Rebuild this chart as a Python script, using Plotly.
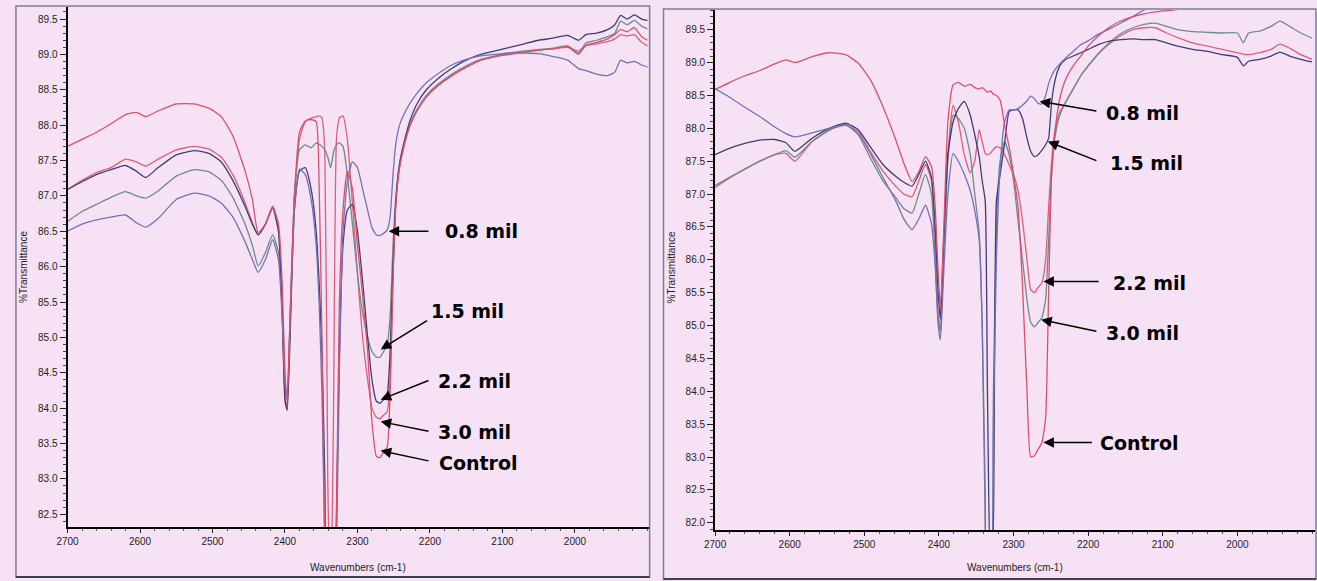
import plotly.graph_objects as go

W, H = 1317, 581

# ---------------- data: left panel ----------------
wn_left = [2700, 2680, 2660, 2640, 2620, 2605, 2592, 2575, 2550, 2525,
           2505, 2488, 2472, 2455, 2445, 2437, 2427, 2417, 2409, 2404,
           2400, 2397, 2393, 2387, 2380, 2372, 2364, 2357, 2353, 2349,
           2345, 2341, 2337, 2333, 2329, 2325, 2320, 2314, 2307, 2300,
           2293, 2286, 2280, 2274, 2269, 2264, 2259, 2255, 2251, 2247,
           2242, 2236, 2228, 2218, 2205, 2190, 2170, 2150, 2130, 2110,
           2090, 2070, 2050, 2030, 2010, 1995, 1985, 1970, 1955, 1945,
           1937, 1928, 1918, 1908, 1900]

left_control = [87.70, 87.80, 87.90, 88.02, 88.15, 88.18, 88.12, 88.20, 88.30, 88.30,
                88.24, 88.12, 87.85, 87.35, 86.95, 86.48, 86.60, 86.85, 86.60, 85.80,
                84.50, 84.10, 85.30, 87.00, 87.90, 88.06, 88.08, 88.05, 87.20, 85.00,
                82.00, 81.00, 81.00, 81.00, 82.50, 85.50, 86.80, 87.35, 87.10, 86.30,
                85.60, 84.80, 83.80, 83.32, 83.30, 83.38, 83.45, 84.20, 85.80, 86.90,
                87.40, 87.70, 87.98, 88.20, 88.40, 88.55, 88.70, 88.82, 88.92, 88.97,
                89.00, 89.03, 89.06, 89.08, 89.11, 89.00, 89.13, 89.17, 89.22, 89.28,
                89.35, 89.32, 89.38, 89.25, 89.20]
left_30 = [87.09, 87.22, 87.33, 87.40, 87.52, 87.48, 87.42, 87.52, 87.65, 87.70,
           87.66, 87.55, 87.30, 86.90, 86.62, 86.45, 86.60, 86.85, 86.50, 85.50,
           84.20, 84.00, 85.20, 87.00, 87.80, 88.05, 88.10, 88.12, 88.13, 88.10,
           87.60, 83.00, 81.00, 84.00, 87.80, 88.10, 88.13, 87.80, 86.90, 85.90,
           85.00, 84.40, 84.00, 83.87, 83.85, 83.90, 83.95, 84.40, 85.90, 86.90,
           87.40, 87.70, 87.98, 88.20, 88.40, 88.55, 88.70, 88.82, 88.92, 88.97,
           89.01, 89.04, 89.06, 89.08, 89.10, 89.05, 89.12, 89.15, 89.18, 89.22,
           89.28, 89.26, 89.28, 89.17, 89.12]
left_22 = [87.09, 87.20, 87.30, 87.37, 87.43, 87.35, 87.26, 87.40, 87.58, 87.64,
           87.60, 87.48, 87.22, 86.85, 86.60, 86.45, 86.60, 86.83, 86.50, 85.40,
           84.10, 83.97, 85.00, 86.80, 87.35, 87.40, 87.10, 86.50, 85.80, 84.80,
           83.00, 81.00, 81.00, 81.00, 82.50, 84.80, 86.30, 86.80, 86.88, 86.50,
           85.80, 85.00, 84.40, 84.10, 84.07, 84.12, 84.20, 84.80, 86.00, 86.95,
           87.45, 87.75, 88.05, 88.30, 88.50, 88.65, 88.80, 88.92, 89.00, 89.05,
           89.10, 89.15, 89.20, 89.23, 89.27, 89.20, 89.28, 89.30, 89.35, 89.42,
           89.55, 89.50, 89.56, 89.50, 89.48]
left_15 = [86.64, 86.78, 86.88, 86.98, 87.06, 87.00, 86.97, 87.07, 87.28, 87.37,
           87.34, 87.22, 86.98, 86.60, 86.30, 86.01, 86.20, 86.45, 86.20, 85.40,
           84.25, 84.15, 85.30, 87.00, 87.65, 87.72, 87.68, 87.75, 87.73, 87.70,
           87.65, 87.55, 87.40, 87.62, 87.72, 87.75, 87.70, 87.30, 86.60, 85.90,
           85.35, 85.00, 84.80, 84.72, 84.72, 84.80, 84.90, 85.30, 86.30, 87.00,
           87.45, 87.72, 88.00, 88.22, 88.42, 88.57, 88.72, 88.84, 88.93, 88.98,
           89.02, 89.05, 89.07, 89.09, 89.12, 89.02, 89.16, 89.20, 89.25, 89.30,
           89.47, 89.42, 89.48, 89.40, 89.36]
left_08 = [86.50, 86.60, 86.66, 86.70, 86.73, 86.62, 86.56, 86.68, 86.95, 87.04,
           87.00, 86.90, 86.70, 86.35, 86.10, 85.92, 86.10, 86.38, 86.10, 85.30,
           84.35, 84.20, 85.20, 86.80, 87.38, 87.30, 86.95, 86.30, 85.50, 84.20,
           82.00, 81.00, 81.00, 81.00, 82.00, 84.50, 86.50, 87.20, 87.48, 87.40,
           87.10, 86.80, 86.55, 86.45, 86.44, 86.47, 86.52, 86.70, 87.30, 87.75,
           88.00, 88.15, 88.30, 88.45, 88.60, 88.72, 88.85, 88.93, 88.98, 89.00,
           89.02, 89.02, 89.01, 88.97, 88.92, 88.80, 88.77, 88.72, 88.70, 88.75,
           88.92, 88.88, 88.90, 88.85, 88.82]

# ---------------- data: right panel ----------------
wn_right = [2700, 2680, 2660, 2640, 2620, 2605, 2593, 2570, 2547, 2525,
            2508, 2492, 2475, 2458, 2447, 2436, 2427, 2418, 2410, 2405,
            2401, 2398, 2394, 2388, 2381, 2374, 2366, 2358, 2352, 2346,
            2342, 2338, 2335, 2331, 2327, 2323, 2318, 2312, 2306, 2300,
            2294, 2288, 2282, 2277, 2272, 2267, 2262, 2257, 2253, 2249,
            2244, 2238, 2230, 2220, 2210, 2200, 2185, 2170, 2155, 2140,
            2125, 2110, 2095, 2080, 2060, 2040, 2020, 2000, 1992, 1985,
            1970, 1955, 1943, 1930, 1915, 1900]

right_control = [88.59, 88.70, 88.80, 88.88, 88.98, 89.04, 89.00, 89.09, 89.15, 89.12,
                 88.99, 88.74, 88.33, 87.83, 87.47, 87.19, 87.34, 87.57, 87.42, 86.80,
                 85.80, 85.25, 86.30, 88.10, 88.66, 88.70, 88.64, 88.67, 88.62, 88.60,
                 88.62, 88.58, 88.55, 88.57, 88.52, 88.50, 88.43, 88.05, 87.72, 87.30,
                 86.80, 85.60, 84.00, 83.00, 83.02, 83.12, 83.22, 83.60, 85.50, 87.30,
                 88.00, 88.45, 88.75, 88.95, 89.10, 89.25, 89.42, 89.55, 89.64, 89.70,
                 89.74, 89.77, 89.79, 89.81, 89.83, 89.86, 89.88, 89.90, 89.92, 89.93,
                 89.95, 89.96, 89.97, 89.98, 89.99, 90.00]
right_08 = [88.60, 88.47, 88.32, 88.18, 88.02, 87.92, 87.87, 87.93, 88.00, 88.05,
            87.92, 87.62, 87.25, 86.90, 86.62, 86.46, 86.62, 86.83, 86.55, 85.90,
            85.00, 84.78, 85.70, 87.00, 87.62, 87.50, 87.30, 87.05, 86.75, 86.30,
            85.00, 82.50, 81.00, 81.00, 83.50, 86.00, 87.40, 88.10, 88.28, 88.28,
            88.30, 88.35, 88.42, 88.49, 88.45, 88.38, 88.37, 88.50, 88.68, 88.80,
            88.90, 88.98, 89.07, 89.17, 89.27, 89.33, 89.44, 89.52, 89.61, 89.70,
            89.80, 89.86, 89.90, 89.92, 89.94, 89.95, 89.96, 89.97, 89.98, 89.98,
            89.99, 90.00, 90.00, 90.00, 90.00, 90.00]
right_15 = [87.60, 87.70, 87.77, 87.82, 87.83, 87.78, 87.65, 87.85, 88.00, 88.08,
            87.98, 87.72, 87.45, 87.27, 87.18, 87.12, 87.30, 87.50, 87.25, 86.50,
            85.50, 85.10, 86.20, 87.60, 88.10, 88.30, 88.41, 88.20, 87.90, 87.57,
            87.20, 86.90, 84.00, 81.00, 82.00, 86.90, 87.30, 87.77, 88.25, 88.28,
            88.28, 88.15, 87.85, 87.65, 87.57, 87.60, 87.67, 87.75, 87.85, 88.40,
            88.75, 88.95, 89.05, 89.10, 89.15, 89.20, 89.28, 89.33, 89.35, 89.36,
            89.35, 89.35, 89.30, 89.25, 89.20, 89.17, 89.12, 89.08, 88.95, 89.02,
            89.05, 89.10, 89.16, 89.10, 89.05, 89.01]
right_22 = [87.10, 87.25, 87.38, 87.50, 87.60, 87.62, 87.50, 87.80, 87.98, 88.05,
            87.95, 87.65, 87.35, 87.12, 87.00, 86.96, 87.20, 87.45, 87.20, 86.30,
            85.20, 84.90, 86.00, 87.60, 88.35, 88.10, 87.60, 87.32, 87.50, 87.98,
            87.80, 87.62, 87.60, 87.62, 87.68, 87.72, 87.70, 87.60, 87.45, 87.30,
            87.05, 86.60, 86.00, 85.55, 85.50, 85.58, 85.65, 86.00, 86.80, 87.50,
            88.00, 88.25, 88.40, 88.60, 88.80, 88.95, 89.15, 89.30, 89.42, 89.50,
            89.53, 89.53, 89.45, 89.38, 89.30, 89.25, 89.20, 89.15, 89.13, 89.12,
            89.15, 89.20, 89.28, 89.22, 89.12, 89.05]
right_30 = [87.13, 87.26, 87.38, 87.50, 87.60, 87.66, 87.56, 87.80, 87.97, 88.06,
            87.90, 87.55, 87.20, 86.95, 86.78, 86.71, 87.00, 87.30, 87.00, 86.00,
            85.10, 84.95, 86.00, 87.50, 88.20, 88.15, 88.00, 87.60, 87.00, 86.40,
            85.00, 82.00, 81.00, 81.00, 84.00, 86.50, 87.50, 87.80, 87.60, 87.20,
            86.60, 86.00, 85.40, 85.05, 84.98, 85.05, 85.12, 85.40, 86.30, 87.30,
            87.90, 88.20, 88.40, 88.60, 88.80, 88.95, 89.15, 89.32, 89.45, 89.53,
            89.58, 89.60, 89.55, 89.50, 89.47, 89.46, 89.45, 89.45, 89.30, 89.45,
            89.48, 89.55, 89.63, 89.55, 89.45, 89.37]

x_tick_vals = [2700, 2600, 2500, 2400, 2300, 2200, 2100, 2000]
x_tick_text = ["2700", "2600", "2500", "2400", "2300", "2200", "2100", "2000"]
y_tick_vals = [82.0, 82.5, 83.0, 83.5, 84.0, 84.5, 85.0, 85.5, 86.0, 86.5,
               87.0, 87.5, 88.0, 88.5, 89.0, 89.5]

# labels: (text, text_x, text_y, arrow_head_x, arrow_head_y, arrow_tail_x, arrow_tail_y)
left_labels = [
    ("0.8 mil", 2182, 86.50, 2257, 86.50, 2200, 86.50),
    ("1.5 mil", 2202, 85.37, 2268, 84.83, 2202, 85.25),
    ("2.2 mil", 2192, 84.39, 2268, 84.12, 2200, 84.40),
    ("3.0 mil", 2192, 83.66, 2268, 83.81, 2200, 83.67),
    ("Control", 2190, 83.23, 2268, 83.40, 2200, 83.25),
]
right_labels = [
    ("0.8 mil", 2179, 88.24, 2265, 88.41, 2187, 88.26),
    ("1.5 mil", 2174, 87.47, 2254, 87.80, 2187, 87.50),
    ("2.2 mil", 2170, 85.65, 2260, 85.67, 2184, 85.67),
    ("3.0 mil", 2179, 84.89, 2263, 85.09, 2187, 84.91),
    ("Control", 2187, 83.22, 2260, 83.22, 2193, 83.22),
]

RED = "#d9506e"
RED2 = "#d8607e"
BLUE = "#7272b6"
NAVY = "#3e3e74"
GREEN = "#6c8c88"

fig = go.Figure()

left_series = [("3.0 mil", left_30, RED2), ("1.5 mil", left_15, GREEN),
               ("2.2 mil", left_22, NAVY), ("0.8 mil", left_08, BLUE),
               ("Control", left_control, RED)]
for name, ys, col in left_series:
    fig.add_trace(go.Scatter(x=wn_left, y=ys, mode="lines", name=name,
                             line=dict(color=col, width=1.3, shape="spline", smoothing=0.5),
                             xaxis="x", yaxis="y", showlegend=False))

right_series = [("2.2 mil", right_22, RED2), ("3.0 mil", right_30, GREEN),
                ("1.5 mil", right_15, NAVY), ("0.8 mil", right_08, BLUE),
                ("Control", right_control, RED)]
for name, ys, col in right_series:
    fig.add_trace(go.Scatter(x=wn_right, y=ys, mode="lines", name=name,
                             line=dict(color=col, width=1.3, shape="spline", smoothing=0.5),
                             xaxis="x2", yaxis="y2", showlegend=False))

tickfont = dict(family="Liberation Sans, Arial", size=10, color="#222")


def xcfg(domain, rng, anchor):
    return dict(domain=domain, range=rng, anchor=anchor,
                tickvals=x_tick_vals, ticktext=x_tick_text,
                showline=True, linecolor="black", linewidth=2, mirror=False,
                ticks="outside", ticklen=4, tickcolor="#222", tickwidth=1,
                tickfont=tickfont, showgrid=False, zeroline=False,
                minor=dict(dtick=20, ticklen=2, ticks="outside", tickcolor="#555", showgrid=False))


def ycfg(domain, rng, anchor):
    return dict(domain=domain, range=rng, anchor=anchor,
                tickvals=y_tick_vals, tickformat=".1f",
                showline=True, linecolor="black", linewidth=2, mirror=False,
                ticks="outside", ticklen=6, tickcolor="#222", tickwidth=1,
                tickfont=tickfont, showgrid=False, zeroline=False,
                minor=dict(dtick=0.1, ticklen=3, ticks="outside", tickcolor="#444", showgrid=False))


fig.update_layout(
    width=W, height=H,
    margin=dict(l=0, r=0, t=0, b=0),
    paper_bgcolor="#f6e2f4", plot_bgcolor="#f6e2f4",
    xaxis=xcfg([57 / W, 644 / W], [2700, 1897], "y"),
    yaxis=ycfg([(H - 527) / H, (H - 7) / H], [82.32, 89.67], "x"),
    xaxis2=xcfg([710 / W, 1315 / W], [2700, 1896], "y2"),
    yaxis2=ycfg([(H - 530) / H, (H - 10) / H], [81.89, 89.80], "x2"),
)

shapes = [
    dict(type="rect", xref="paper", yref="paper", x0=5 / W, x1=644 / W,
         y0=(H - 577) / H, y1=(H - 6) / H, line=dict(color="#7c7c9c", width=1.5)),
    dict(type="line", xref="paper", yref="paper", x0=5 / W, x1=644 / W,
         y0=(H - 577) / H, y1=(H - 577) / H, line=dict(color="#404050", width=2)),
    dict(type="rect", xref="paper", yref="paper", x0=658 / W, x1=1316 / W,
         y0=(H - 579) / H, y1=(H - 9) / H, line=dict(color="#7c7c9c", width=1.5)),
    dict(type="line", xref="paper", yref="paper", x0=658 / W, x1=1316 / W,
         y0=(H - 579) / H, y1=(H - 579) / H, line=dict(color="#404050", width=2)),
]
fig.update_layout(shapes=shapes)

ann = []
titlefont = dict(family="Liberation Sans, Arial", size=10, color="#222")
for xp in (12, 666):
    ann.append(dict(x=xp / W, y=(H - 267) / H, xref="paper", yref="paper",
                    text="%Transmittance", textangle=-90, showarrow=False,
                    font=titlefont, xanchor="center", yanchor="middle"))
for xp in (350, 1012):
    ann.append(dict(x=xp / W, y=(H - 567) / H, xref="paper", yref="paper",
                    text="Wavenumbers (cm-1)", showarrow=False,
                    font=titlefont, xanchor="center", yanchor="middle"))

labfont = dict(family="DejaVu Sans", size=19, color="black")
for labels, xr, yr in ((left_labels, "x", "y"), (right_labels, "x2", "y2")):
    for text, tx, ty, hx, hy, ax_, ay_ in labels:
        ann.append(dict(x=hx, y=hy, ax=ax_, ay=ay_, xref=xr, yref=yr, axref=xr, ayref=yr,
                        text="", showarrow=True, arrowhead=2, arrowsize=1.4,
                        arrowwidth=1.5, arrowcolor="black"))
        ann.append(dict(x=tx, y=ty, xref=xr, yref=yr, text="<b>" + text + "</b>",
                        showarrow=False, font=labfont, xanchor="left", yanchor="middle"))
fig.update_layout(annotations=ann)

fig.write_html("out.html")
